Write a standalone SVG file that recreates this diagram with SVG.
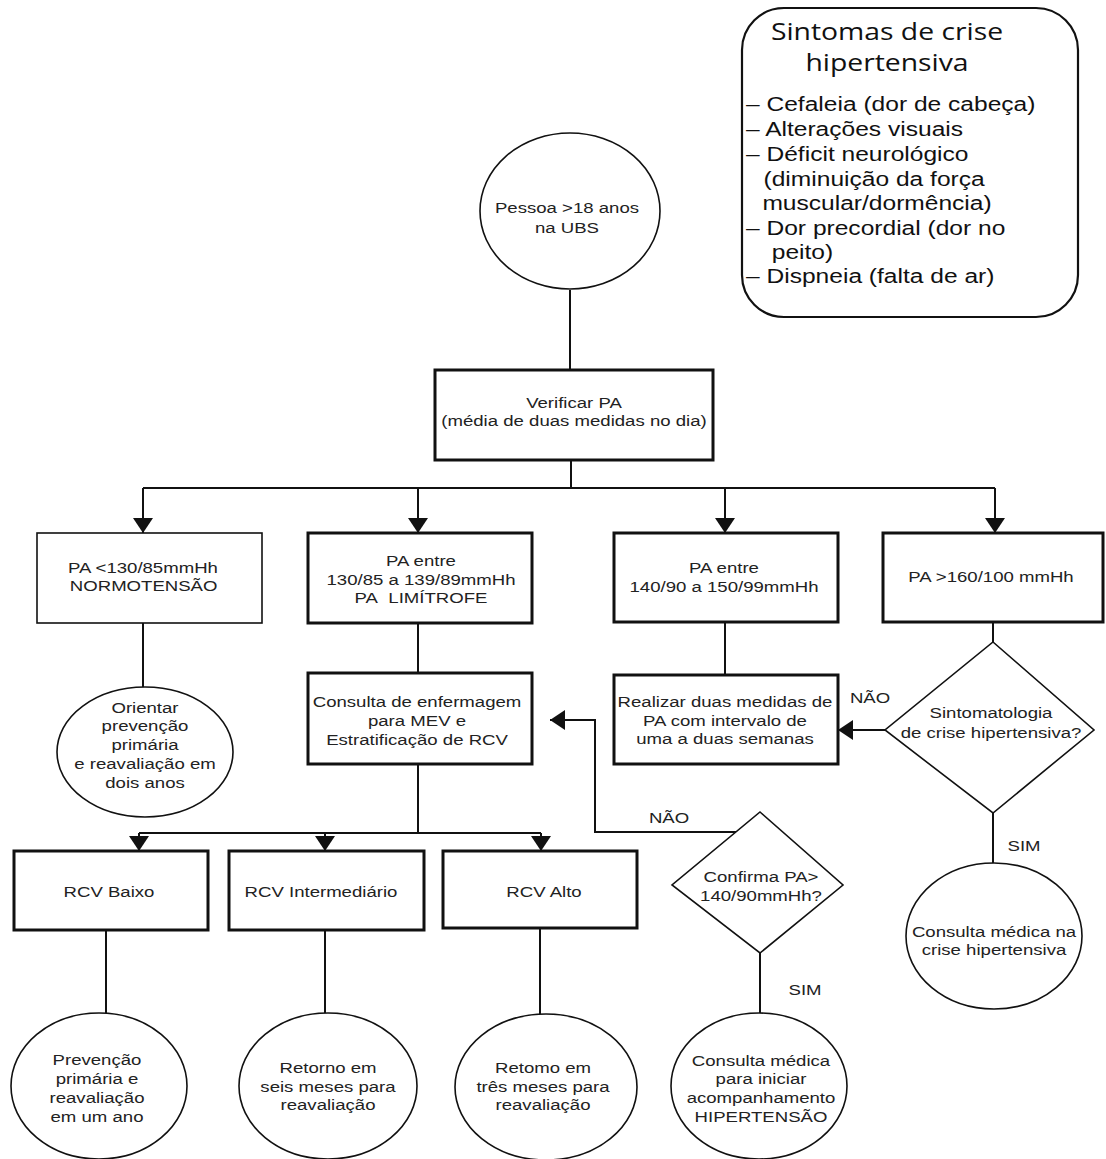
<svg xmlns="http://www.w3.org/2000/svg" width="1106" height="1159" viewBox="0 0 1106 1159">
<style>
.bg{fill:#ffffff}
.thick{fill:#ffffff;stroke:#111;stroke-width:3}
.thin{fill:#ffffff;stroke:#111;stroke-width:1.6}
.ln{fill:none;stroke:#111;stroke-width:2}
.t{font-family:"Liberation Sans",Arial,sans-serif;font-size:15px;fill:#222;text-anchor:middle}
.ts{font-family:"Liberation Sans",Arial,sans-serif;font-size:15px;fill:#222;text-anchor:start}
.h{font-family:"Open Sans","Noto Sans",sans-serif;font-size:24px;fill:#111;text-anchor:middle}
.li{font-family:"Liberation Sans",Arial,sans-serif;font-size:21px;fill:#111;text-anchor:start}
</style>
<defs>
<marker id="ah" markerUnits="userSpaceOnUse" markerWidth="16" markerHeight="20" refX="15" refY="10" orient="auto">
<path d="M0,0 L15,10 L0,20 z" fill="#111"/>
</marker>
</defs>
<rect class="bg" x="0" y="0" width="1106" height="1159"/>

<g id="connectors">
<path class="ln" d="M570,290 V370"/>
<path class="ln" d="M571,460 V488"/>
<path class="ln" d="M143,488 H995"/>
<path class="ln" d="M143,488 V533" marker-end="url(#ah)"/>
<path class="ln" d="M418,488 V533" marker-end="url(#ah)"/>
<path class="ln" d="M725,488 V533" marker-end="url(#ah)"/>
<path class="ln" d="M995,488 V533" marker-end="url(#ah)"/>
<path class="ln" d="M143,623 V687"/>
<path class="ln" d="M418,623 V673"/>
<path class="ln" d="M418,764 V833"/>
<path class="ln" d="M139,833 H541"/>
<path class="ln" d="M139,833 V851" marker-end="url(#ah)"/>
<path class="ln" d="M325,833 V851" marker-end="url(#ah)"/>
<path class="ln" d="M541,833 V851" marker-end="url(#ah)"/>
<path class="ln" d="M106,930 V1013"/>
<path class="ln" d="M325,930 V1013"/>
<path class="ln" d="M540,928 V1014"/>
<path class="ln" d="M725,622 V675"/>
<path class="ln" d="M993,622 V642"/>
<path class="ln" d="M885,730 H838" marker-end="url(#ah)"/>
<path class="ln" d="M993,813 V863"/>
<path class="ln" d="M760,953 V1013"/>
<path class="ln" d="M737,832 H595 V720 H550" marker-end="url(#ah)"/>
<g transform="translate(669 0) scale(1.24 1)"><text class="t" x="0" y="823">NÃO</text></g>
<g transform="translate(870 0) scale(1.24 1)"><text class="t" x="0" y="703">NÃO</text></g>
<g transform="translate(805 0) scale(1.24 1)"><text class="t" x="0" y="995">SIM</text></g>
<g transform="translate(1024 0) scale(1.24 1)"><text class="t" x="0" y="851">SIM</text></g>
</g>

<g id="sintomas">
<rect x="742" y="8" width="336" height="309" rx="42" ry="42" fill="#fff" stroke="#111" stroke-width="2.2"/>
<g transform="translate(887 0) scale(1.18 1)">
<text class="h" x="0" y="40">Sintomas de crise</text>
<text class="h" x="0" y="71">hipertensiva</text>
</g>
<g transform="translate(746 0) scale(1.17 1)">
<text class="li" x="0" y="111">– Cefaleia (dor de cabeça)</text>
<text class="li" x="0" y="136">– Alterações visuais</text>
<text class="li" x="0" y="161">– Déficit neurológico</text>
<text class="li" x="15" y="186">(diminuição da força</text>
<text class="li" x="14" y="210">muscular/dormência)</text>
<text class="li" x="0" y="235">– Dor precordial (dor no</text>
<text class="li" x="22" y="259">peito)</text>
<text class="li" x="0" y="283">– Dispneia (falta de ar)</text>
</g>
</g>

<g id="pessoa">
<ellipse class="thin" cx="570" cy="211" rx="90" ry="78"/>
<g transform="translate(567 0) scale(1.24 1)">
<text class="t" x="0" y="213">Pessoa &gt;18 anos</text>
<text class="t" x="0" y="233">na UBS</text>
</g>
</g>

<g id="verificar">
<rect class="thick" x="435" y="370" width="278" height="90"/>
<g transform="translate(574 0) scale(1.24 1)">
<text class="t" x="0" y="408">Verificar PA</text>
<text class="t" x="0" y="426">(média de duas medidas no dia)</text>
</g>
</g>

<g id="normo">
<rect class="thin" x="37" y="533" width="225" height="90"/>
<g transform="translate(68 0) scale(1.24 1)">
<text class="ts" x="0" y="573">PA &lt;130/85mmHh</text>
<text class="ts" x="1.5" y="591">NORMOTENSÃO</text>
</g>
</g>

<g id="limitrofe">
<rect class="thick" x="308" y="533" width="224" height="90"/>
<g transform="translate(421 0) scale(1.24 1)">
<text class="t" x="0" y="566">PA entre</text>
<text class="t" x="0" y="585">130/85 a 139/89mmHh</text>
<text class="t" x="0" y="603">PA&#160; LIMÍTROFE</text>
</g>
</g>

<g id="estagio1">
<rect class="thick" x="614" y="533" width="224" height="89"/>
<g transform="translate(724 0) scale(1.24 1)">
<text class="t" x="0" y="573">PA entre</text>
<text class="t" x="0" y="592">140/90 a 150/99mmHh</text>
</g>
</g>

<g id="estagio2">
<rect class="thick" x="883" y="533" width="220" height="89"/>
<g transform="translate(991 0) scale(1.24 1)">
<text class="t" x="0" y="582">PA &gt;160/100 mmHh</text>
</g>
</g>

<g id="orientar">
<ellipse class="thin" cx="145" cy="752" rx="88" ry="65"/>
<g transform="translate(145 0) scale(1.24 1)">
<text class="t" x="0" y="713">Orientar</text>
<text class="t" x="0" y="731">prevenção</text>
<text class="t" x="0" y="750">primária</text>
<text class="t" x="0" y="769">e reavaliação em</text>
<text class="t" x="0" y="788">dois anos</text>
</g>
</g>

<g id="consulta-enf">
<rect class="thick" x="308" y="673" width="224" height="91"/>
<g transform="translate(417 0) scale(1.24 1)">
<text class="t" x="0" y="707">Consulta de enfermagem</text>
<text class="t" x="0" y="726">para MEV e</text>
<text class="t" x="0" y="745">Estratificação de RCV</text>
</g>
</g>

<g id="realizar">
<rect class="thick" x="614" y="675" width="224" height="89"/>
<g transform="translate(725 0) scale(1.24 1)">
<text class="t" x="0" y="707">Realizar duas medidas de</text>
<text class="t" x="0" y="726">PA com intervalo de</text>
<text class="t" x="0" y="744">uma a duas semanas</text>
</g>
</g>

<g id="sintomatologia">
<polygon class="thin" points="993,642 1094,730 993,813 885,730"/>
<g transform="translate(991 0) scale(1.24 1)">
<text class="t" x="0" y="718">Sintomatologia</text>
<text class="t" x="0" y="738">de crise hipertensiva?</text>
</g>
</g>

<g id="crise">
<ellipse class="thin" cx="994" cy="936" rx="88" ry="73"/>
<g transform="translate(994 0) scale(1.24 1)">
<text class="t" x="0" y="937">Consulta médica na</text>
<text class="t" x="0" y="955">crise hipertensiva</text>
</g>
</g>

<g id="confirma">
<polygon class="thin" points="760,812 843,885 760,953 672,885"/>
<g transform="translate(761 0) scale(1.24 1)">
<text class="t" x="0" y="882">Confirma PA&gt;</text>
<text class="t" x="0" y="901">140/90mmHh?</text>
</g>
</g>

<g id="rcv-baixo">
<rect class="thick" x="14" y="851" width="194" height="79"/>
<g transform="translate(109 0) scale(1.24 1)"><text class="t" x="0" y="897">RCV Baixo</text></g>
</g>

<g id="rcv-inter">
<rect class="thick" x="229" y="851" width="195" height="79"/>
<g transform="translate(321 0) scale(1.24 1)"><text class="t" x="0" y="897">RCV Intermediário</text></g>
</g>

<g id="rcv-alto">
<rect class="thick" x="443" y="851" width="194" height="77"/>
<g transform="translate(544 0) scale(1.24 1)"><text class="t" x="0" y="897">RCV Alto</text></g>
</g>

<g id="prevencao">
<ellipse class="thin" cx="99" cy="1086" rx="88" ry="73"/>
<g transform="translate(97 0) scale(1.24 1)">
<text class="t" x="0" y="1065">Prevenção</text>
<text class="t" x="0" y="1084">primária e</text>
<text class="t" x="0" y="1103">reavaliação</text>
<text class="t" x="0" y="1122">em um ano</text>
</g>
</g>

<g id="retorno-seis">
<ellipse class="thin" cx="328" cy="1086" rx="89" ry="73"/>
<g transform="translate(328 0) scale(1.24 1)">
<text class="t" x="0" y="1073">Retorno em</text>
<text class="t" x="0" y="1092">seis meses para</text>
<text class="t" x="0" y="1110">reavaliação</text>
</g>
</g>

<g id="retorno-tres">
<ellipse class="thin" cx="546" cy="1087" rx="91" ry="73"/>
<g transform="translate(543 0) scale(1.24 1)">
<text class="t" x="0" y="1073">Retomo em</text>
<text class="t" x="0" y="1092">três meses para</text>
<text class="t" x="0" y="1110">reavaliação</text>
</g>
</g>

<g id="consulta-medica">
<ellipse class="thin" cx="759" cy="1086" rx="88" ry="73"/>
<g transform="translate(761 0) scale(1.24 1)">
<text class="t" x="0" y="1066">Consulta médica</text>
<text class="t" x="0" y="1084">para iniciar</text>
<text class="t" x="0" y="1103">acompanhamento</text>
<text class="t" x="0" y="1122">HIPERTENSÃO</text>
</g>
</g>
</svg>
